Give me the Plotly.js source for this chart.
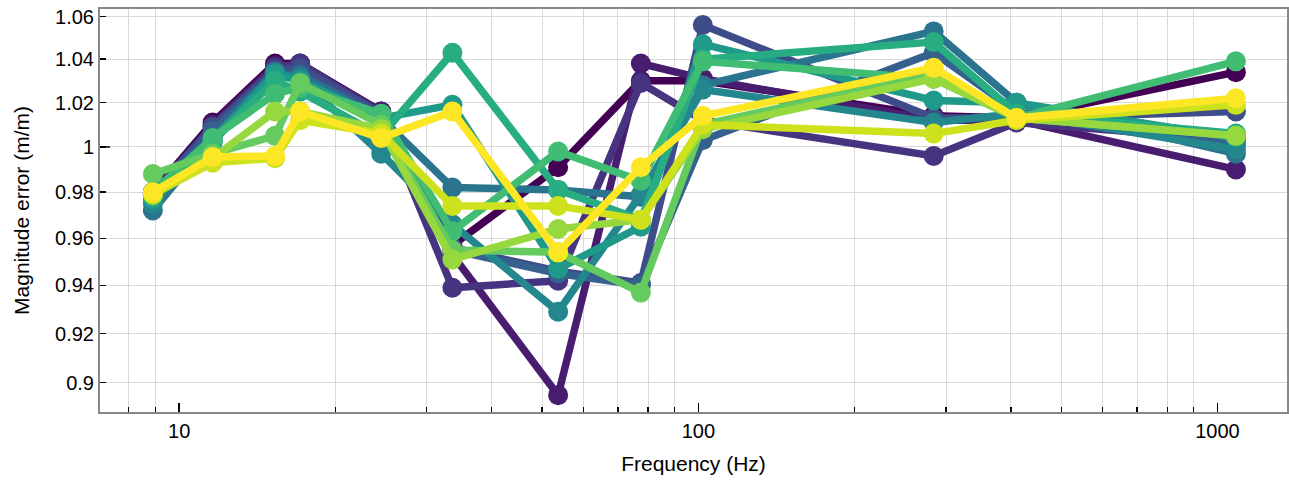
<!DOCTYPE html>
<html>
<head>
<meta charset="utf-8">
<script src="https://cdn.plot.ly/plotly-3.0.1.min.js"></script>
<style>html,body{margin:0;padding:0;background:#fff;}#chart{width:1289px;height:481px;}</style>
</head>
<body>
<div id="chart"></div>
<script>
// Frequencies (Hz)
var freqs = [8.9, 11.6, 15.3, 17.1, 24.5, 33.6, 53.7, 77.5, 102, 284, 410, 1085];

// Magnitude error series (m/m), one per run (viridis order)
var s0  = [0.980, 1.011, 1.038, 1.038, 1.016, 0.957, 0.991, 1.030, 1.030, 1.014, 1.013, 1.034];
var s1  = [0.979, 1.010, 1.037, 1.037, 1.016, 0.953, 0.895, 1.038, 1.031, 1.012, 1.012, 0.990];
var s2  = [0.980, 1.009, 1.036, 1.038, 1.015, 0.939, 0.942, 1.029, 1.012, 0.996, 1.011, 1.003];
var s3  = [0.979, 1.009, 1.035, 1.036, 1.015, 0.956, 0.946, 0.941, 1.056, 1.013, 1.013, 1.016];
var s4  = [0.978, 1.007, 1.034, 1.033, 1.014, 0.955, 0.945, 0.940, 1.003, 1.043, 1.016, 1.001];
var s5  = [0.972, 1.004, 1.033, 1.032, 1.013, 0.982, 0.981, 0.978, 1.028, 1.053, 1.020, 0.997];
var s6  = [0.975, 1.003, 1.034, 1.031, 0.997, 0.966, 0.929, 0.979, 1.026, 1.011, 1.015, 0.999];
var s7  = [0.977, 1.002, 1.033, 1.030, 1.013, 1.019, 0.947, 0.965, 1.047, 1.021, 1.020, 1.004];
var s8  = [0.978, 1.003, 1.030, 1.025, 1.005, 1.043, 0.981, 0.968, 1.040, 1.048, 1.015, 1.006];
var s9  = [0.980, 1.004, 1.024, 1.027, 1.015, 0.963, 0.998, 0.985, 1.039, 1.031, 1.013, 1.039];
var s10 = [0.988, 0.997, 1.005, 1.029, 1.010, 0.955, 0.954, 0.937, 1.010, 1.033, 1.013, 1.005];
var s11 = [0.979, 0.995, 1.016, 1.016, 1.008, 0.951, 0.964, 0.968, 1.008, 1.031, 1.013, 1.005];
var s12 = [0.979, 0.993, 0.995, 1.012, 1.006, 0.974, 0.974, 0.968, 1.010, 1.006, 1.012, 1.019];
var s13 = [0.980, 0.9955, 0.996, 1.016, 1.004, 1.016, 0.954, 0.991, 1.014, 1.036, 1.013, 1.022];

var seriesList = [s0, s1, s2, s3, s4, s5, s6, s7, s8, s9, s10, s11, s12, s13];
var colors = ['#440154', '#481d6f', '#463480', '#3e4c8a', '#34618d', '#2b748e', '#24878e',
              '#1f998a', '#27ad81', '#40bd72', '#65cb5e', '#97d83f', '#cde11d', '#fde725'];

var yTickVals = [0.9, 0.92, 0.94, 0.96, 0.98, 1, 1.02, 1.04, 1.06];
var yTickText = ['0.9', '0.92', '0.94', '0.96', '0.98', '1', '1.02', '1.04', '1.06'];
var xTickVals = [10, 100, 1000];
var xTickText = ['10', '100', '1000'];
var xMinorVals = [8, 9, 20, 30, 40, 50, 60, 70, 80, 90, 200, 300, 400, 500, 600, 700, 800, 900];

var traces = seriesList.map(function (s, i) {
  return {
    x: freqs, y: s, type: 'scatter', mode: 'lines+markers',
    line: {color: colors[i], width: 7.5},
    marker: {color: colors[i], size: 20},
    showlegend: false, hoverinfo: 'x+y'
  };
});

var fontFam = '"Liberation Sans", Arial, Helvetica, sans-serif';
var layout = {
  width: 1289, height: 481,
  margin: {l: 100, r: 2, t: 9, b: 69},
  paper_bgcolor: '#fff', plot_bgcolor: '#fff',
  font: {family: fontFam, size: 20, color: '#000'},
  xaxis: {
    type: 'log',
    range: [Math.log10(7.04), Math.log10(1361)],
    tickmode: 'array', tickvals: xTickVals, ticktext: xTickText,
    ticks: 'inside', ticklen: 9, tickwidth: 1.5, tickcolor: '#000',
    showgrid: false, zeroline: false,
    showline: true, linecolor: '#888', linewidth: 2, mirror: true,
    minor: {tickmode: 'array', tickvals: xMinorVals, ticks: 'inside', ticklen: 5,
            tickwidth: 1.2, tickcolor: '#000', showgrid: true, gridcolor: '#d9d9d9', gridwidth: 1},
    title: {text: 'Frequency (Hz)', font: {family: fontFam, size: 21, color: '#000'}, standoff: 15},
    tickfont: {family: fontFam, size: 20, color: '#000'}
  },
  yaxis: {
    type: 'log',
    range: [Math.log10(0.8883), Math.log10(1.0636)],
    tickmode: 'array', tickvals: yTickVals, ticktext: yTickText,
    ticks: 'inside', ticklen: 6, tickwidth: 1.5, tickcolor: '#000',
    showgrid: true, gridcolor: '#d9d9d9', gridwidth: 1, zeroline: false,
    showline: true, linecolor: '#888', linewidth: 2, mirror: true,
    title: {text: 'Magnitude error (m/m)', font: {family: fontFam, size: 21, color: '#000'}, standoff: 20},
    tickfont: {family: fontFam, size: 20, color: '#000'}
  },
  shapes: [{
    type: 'line', xref: 'paper', yref: 'y', x0: 0, x1: 0.0085, y0: 1, y1: 1,
    line: {color: '#000', width: 1.5}
  }]
};

Plotly.newPlot('chart', traces, layout, {displayModeBar: false, staticPlot: true});
</script>
</body>
</html>
